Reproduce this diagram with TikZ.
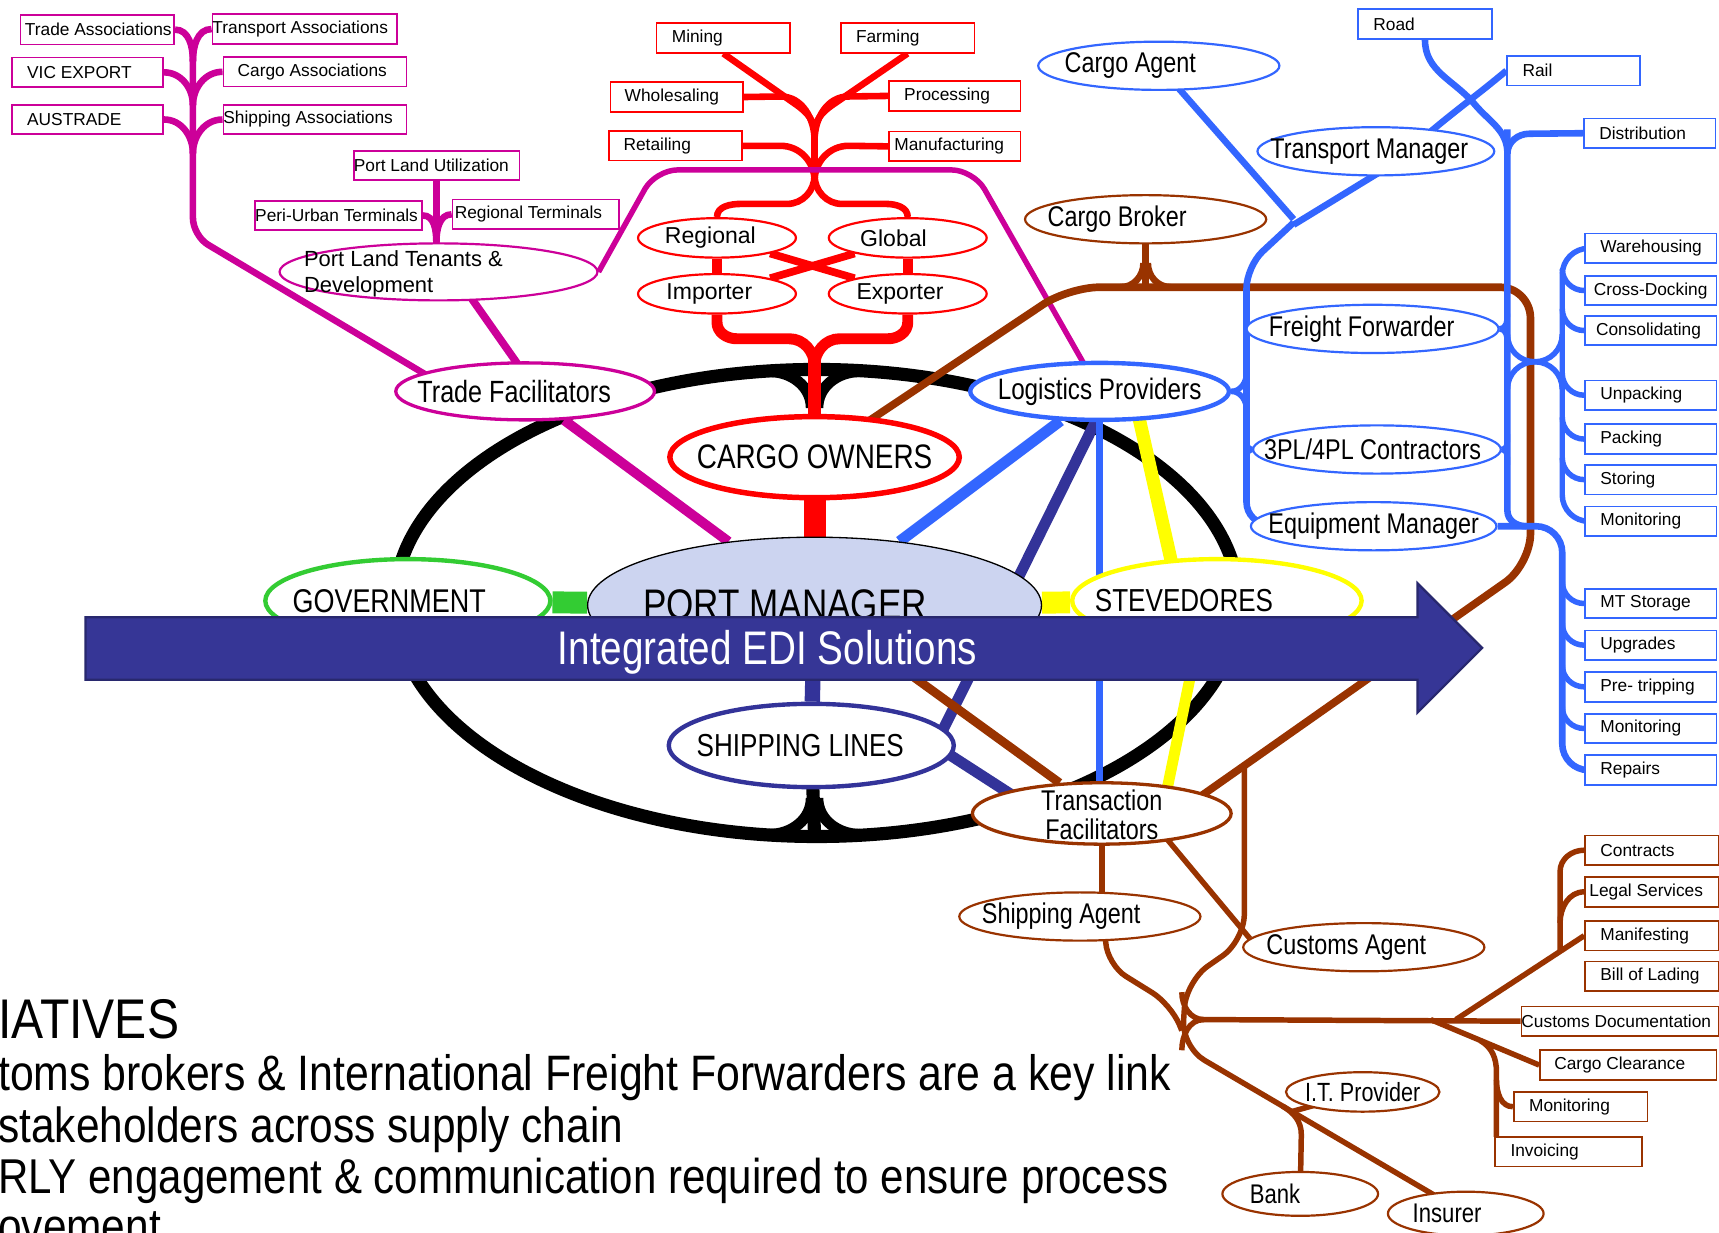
\documentclass[tikz,border=0pt]{standalone}
\usepackage{fontspec}
\setmainfont{Liberation Sans}
\newfontfamily\narrowsf[FakeStretch=0.82]{Liberation Sans}
\newfontfamily\notesf[FakeStretch=0.86]{Liberation Sans}
\usetikzlibrary{shapes.geometric}

\definecolor{magc}{RGB}{204,0,153}
\definecolor{redc}{RGB}{255,0,0}
\definecolor{bluec}{RGB}{51,102,255}
\definecolor{dbluec}{RGB}{51,51,153}
\definecolor{brownc}{RGB}{153,51,0}
\definecolor{greenc}{RGB}{51,204,51}
\definecolor{yellowc}{RGB}{255,255,0}
\definecolor{arrowc}{RGB}{54,54,150}
\definecolor{arrowe}{RGB}{40,40,110}
\definecolor{pmfill}{RGB}{204,212,240}

\pgfdeclarelayer{bg}
\pgfdeclarelayer{fg}
\pgfsetlayers{bg,main,fg}

\newcommand{\boxtxt}[2]{\makebox[#1][l]{#2}}
\newcommand{\elltxt}[2][0pt]{\makebox[0pt]{\hspace*{#1}\hspace*{#1}#2}}

\tikzset{
	bx/.style={draw=#1, line width=0.8pt, fill=white, anchor=west, inner ysep=0pt, minimum height=13.5pt, font=\fontsize{7.9}{9}\selectfont},
	el/.style={ellipse, draw=#1, fill=white, line width=1pt, inner sep=0pt, font=\narrowsf\fontsize{13}{13.5}\selectfont},
	cn/.style={draw=#1, line width=2.5pt},
	note/.style={anchor=base west, inner sep=0pt, font=\notesf\fontsize{22.5}{26}\selectfont},
}

\begin{document}
\begin{tikzpicture}[x=0.5pt, y=-0.5pt]
	
	\useasboundingbox (0,0) rectangle (1568,1124);
	
	% magenta boxes
	\node[bx=magc, inner xsep=2pt] (tradeas) at (18,27) {\boxtxt{66pt}{Trade Associations}};
	\node[bx=magc, inner xsep=0pt] (transas) at (193,26.5) {\boxtxt{84pt}{Transport Associations}};
	\node[bx=magc, inner xsep=7pt] (vicexp) at (10,66) {\boxtxt{55pt}{VIC EXPORT}};
	\node[bx=magc, inner xsep=6.5pt] (cargoas) at (203,65.5) {\boxtxt{70.5pt}{Cargo Associations}};
	\node[bx=magc, inner xsep=7pt] (austrade) at (10,109) {\boxtxt{55pt}{AUSTRADE}};
	\node[bx=magc, inner xsep=0pt] (shipas) at (203,109) {\boxtxt{83.5pt}{Shipping Associations}};
	\node[bx=magc, inner xsep=0pt] (plutil) at (322,151) {\boxtxt{75.5pt}{Port Land Utilization}};
	\node[bx=magc, inner xsep=0pt] (periurb) at (232,196.5) {\boxtxt{76pt}{Peri-Urban Terminals}};
	\node[bx=magc, inner xsep=1pt] (regterm) at (412,195.5) {\boxtxt{74pt}{Regional Terminals}};
	
	% red boxes
	\node[bx=redc, inner xsep=7pt] (mining) at (598,34.5) {\boxtxt{47pt}{Mining}};
	\node[bx=redc, inner xsep=7pt] (farming) at (766,34.5) {\boxtxt{47pt}{Farming}};
	\node[bx=redc, inner xsep=6.5pt] (wholesal) at (556,88.5) {\boxtxt{47.5pt}{Wholesaling}};
	\node[bx=redc, inner xsep=7pt] (process) at (810,87.5) {\boxtxt{46pt}{Processing}};
	\node[bx=redc, inner xsep=6.5pt] (retail) at (555,133) {\boxtxt{47.5pt}{Retailing}};
	\node[bx=redc, inner xsep=2.5pt] (manuf) at (810,133.5) {\boxtxt{55pt}{Manufacturing}};
	
	% blue boxes
	\node[bx=bluec, inner xsep=7pt] (road) at (1238,22) {\boxtxt{47pt}{Road}};
	\node[bx=bluec, inner xsep=7pt] (rail) at (1374,64.5) {\boxtxt{46.5pt}{Rail}};
	\node[bx=bluec, inner xsep=7pt] (distrib) at (1444,121.5) {\boxtxt{46pt}{Distribution}};
	\node[bx=bluec, inner xsep=7pt] (wareh) at (1445,226.5) {\boxtxt{46pt}{Warehousing}};
	\node[bx=bluec, inner xsep=4pt] (crossd) at (1445,265) {\boxtxt{52pt}{Cross-Docking}};
	\node[bx=bluec, inner xsep=5pt] (consol) at (1445,301.5) {\boxtxt{50pt}{Consolidating}};
	\node[bx=bluec, inner xsep=7pt] (unpack) at (1445,360.5) {\boxtxt{46pt}{Unpacking}};
	\node[bx=bluec, inner xsep=7pt] (pack) at (1445,400.5) {\boxtxt{46pt}{Packing}};
	\node[bx=bluec, inner xsep=7pt] (storing) at (1445,437.5) {\boxtxt{46pt}{Storing}};
	\node[bx=bluec, inner xsep=7pt] (monita) at (1445,475.5) {\boxtxt{46pt}{Monitoring}};
	\node[bx=bluec, inner xsep=7pt] (mtstor) at (1445,550.5) {\boxtxt{46pt}{MT Storage}};
	\node[bx=bluec, inner xsep=7pt] (upgr) at (1445,588.5) {\boxtxt{46pt}{Upgrades}};
	\node[bx=bluec, inner xsep=7pt] (pretrip) at (1445,626.5) {\boxtxt{46pt}{Pre- tripping}};
	\node[bx=bluec, inner xsep=7pt] (monitb) at (1445,664.5) {\boxtxt{46pt}{Monitoring}};
	\node[bx=bluec, inner xsep=7pt] (repairs) at (1445,702.5) {\boxtxt{46pt}{Repairs}};
	
	% brown boxes
	\node[bx=brownc, inner xsep=7pt] (contracts) at (1445,775.5) {\boxtxt{47pt}{Contracts}};
	\node[bx=brownc, inner xsep=2pt] (legal) at (1445,813.5) {\boxtxt{57pt}{Legal Services}};
	\node[bx=brownc, inner xsep=7pt] (manif) at (1445,853.5) {\boxtxt{47pt}{Manifesting}};
	\node[bx=brownc, inner xsep=7pt] (bol) at (1445,890.5) {\boxtxt{47pt}{Bill of Lading}};
	\node[bx=brownc, inner xsep=0pt] (custdoc) at (1387,931.5) {\boxtxt{90pt}{Customs Documentation}};
	\node[bx=brownc, inner xsep=6.5pt] (cargoclr) at (1404,971.5) {\boxtxt{67.5pt}{Cargo Clearance}};
	\node[bx=brownc, inner xsep=7pt] (monitc) at (1380,1009.5) {\boxtxt{47pt}{Monitoring}};
	\node[bx=brownc, inner xsep=7pt] (invoic) at (1363,1050.5) {\boxtxt{53pt}{Invoicing}};
	
	% stakeholder ellipses
	\node[el=magc, minimum width=145pt, minimum height=26pt, font=\fontsize{10}{12}\selectfont] (pltenant) at (400,248) {\elltxt[-16pt]{\smash{\raisebox{-3.5pt}{\begin{tabular}{@{}l@{}}Port Land Tenants \&\\Development\end{tabular}}}}};
	\node[el=magc, line width=1.5pt, minimum width=118pt, minimum height=26pt, font=\narrowsf\fontsize{14}{15}\selectfont] (tradefac) at (479,357) {\elltxt[-5pt]{Trade Facilitators}};
	\node[el=redc, minimum width=72pt, minimum height=18pt, font=\fontsize{10.5}{12}\selectfont] (regional) at (654,217) {\elltxt[-3pt]{Regional}};
	\node[el=redc, minimum width=72pt, minimum height=18pt, font=\fontsize{10.5}{12}\selectfont] (global) at (828,217) {\elltxt[-6.5pt]{Global}};
	\node[el=redc, minimum width=72pt, minimum height=18pt, font=\fontsize{10.5}{12}\selectfont] (importer) at (654,268) {\elltxt[-3.5pt]{Importer}};
	\node[el=redc, minimum width=72pt, minimum height=18pt, font=\fontsize{10.5}{12}\selectfont] (exporter) at (828,268) {\elltxt[-3.5pt]{Exporter}};
	\node[el=redc, line width=2.5pt, minimum width=132pt, minimum height=37pt, font=\narrowsf\fontsize{15.5}{17}\selectfont] (cargoown) at (743,417) {\elltxt{CARGO OWNERS}};
	\node[el=black, fill=pmfill, line width=0.6pt, minimum width=207pt, minimum height=62pt, font=\narrowsf\fontsize{19.5}{21}\selectfont] (portmgr) at (743,552) {\elltxt[-13.5pt]{PORT MANAGER}};
	\node[el=greenc, line width=2pt, minimum width=130pt, minimum height=38pt, font=\narrowsf\fontsize{15}{17}\selectfont] (govt) at (372,548) {\elltxt[-8.5pt]{GOVERNMENT}};
	\node[el=yellowc, line width=2pt, minimum width=132pt, minimum height=38pt, font=\narrowsf\fontsize{14.5}{17}\selectfont] (steved) at (1110,548) {\elltxt[-15pt]{STEVEDORES}};
	\node[el=dbluec, line width=2pt, minimum width=130pt, minimum height=38pt, font=\narrowsf\fontsize{14.5}{17}\selectfont] (shiplines) at (740,680) {\elltxt[-5pt]{SHIPPING LINES}};
	\node[el=bluec, line width=2pt, minimum width=118pt, minimum height=26pt, font=\narrowsf\fontsize{13.5}{15}\selectfont] (logprov) at (1003,357) {\elltxt{Logistics Providers}};
	\node[el=brownc, line width=1.5pt, minimum width=118pt, minimum height=28pt] (transfac) at (1005,742) {\elltxt{\smash{\raisebox{-5.5pt}{\begin{tabular}{@{}c@{}}Transaction\\Facilitators\end{tabular}}}}};
	\node[el=bluec, minimum width=110pt, minimum height=22pt] (cargoag) at (1057,60) {\elltxt[-13pt]{Cargo Agent}};
	\node[el=bluec, minimum width=108pt, minimum height=22pt] (transmgr) at (1255,138) {\elltxt[-3pt]{Transport Manager}};
	\node[el=brownc, minimum width=110pt, minimum height=22pt] (cargobrk) at (1045,200) {\elltxt[-13pt]{Cargo Broker}};
	\node[el=bluec, minimum width=115pt, minimum height=22pt] (freightfw) at (1252,300) {\elltxt[-5pt]{Freight Forwarder}};
	\node[el=bluec, minimum width=113pt, minimum height=22pt] (tpl) at (1256,410) {\elltxt[-2pt]{3PL/4PL Contractors}};
	\node[el=bluec, minimum width=112pt, minimum height=22pt] (equipmgr) at (1253,480) {\elltxt{Equipment Manager}};
	\node[el=brownc, minimum width=110pt, minimum height=22pt] (shipag) at (985,836) {\elltxt[-8.5pt]{Shipping Agent}};
	\node[el=brownc, minimum width=110pt, minimum height=22pt] (custag) at (1244,864) {\elltxt[-8pt]{Customs Agent}};
	\node[el=brownc, minimum width=70pt, minimum height=18pt, font=\narrowsf\fontsize{12}{13}\selectfont] (itprov) at (1243,996) {\elltxt{I.T. Provider}};
	\node[el=brownc, minimum width=71pt, minimum height=20pt, font=\narrowsf\fontsize{12.3}{13}\selectfont] (bank) at (1186,1089) {\elltxt[-11.5pt]{Bank}};
	\node[el=brownc, minimum width=71pt, minimum height=20pt, font=\narrowsf\fontsize{12.3}{13}\selectfont] (insurer) at (1337,1107) {\elltxt[-8.5pt]{Insurer}};
	
	% notes
	\node[note, font=\notesf\fontsize{25.5}{28}\selectfont] (initiat) at (-2,947) {IATIVES};
	\node[note, font=\notesf\fontsize{22.7}{26}\selectfont] (notea) at (-2,995) {toms brokers \& International Freight Forwarders are a key link};
	\node[note] (noteb) at (-2,1042) {stakeholders across supply chain};
	\node[note, font=\notesf\fontsize{22.3}{26}\selectfont] (notec) at (-2,1089) {RLY engagement \& communication required to ensure process};
	\node[note] (noted) at (-2,1134) {ovement};
	
	\begin{pgfonlayer}{bg}
	\fill[white] (0,0) rectangle (1568,1124);
	
	% black ring
	\draw[line width=6pt] (745,550) ellipse [x radius=192.5pt, y radius=106.5pt];
	\draw[line width=5pt] (702,339) to[out=0,in=90] (740,372);
	\draw[line width=5pt] (784,339) to[out=180,in=90] (746,372);
	\draw[line width=6pt] (shiplines.center) -- (743,762);
	\draw[line width=5pt] (702,761) to[out=0,in=-90] (740,728);
	\draw[line width=5pt] (784,761) to[out=180,in=-90] (746,728);
	
	% cargo owners tree
	\draw[cn=redc, line width=3pt] (mining.south) -- (727,96) to[out=-36,in=90] (743,122);
	\draw[cn=redc, line width=3pt] (farming.south) -- (759,96) to[out=-145,in=90] (743,122);
	\draw[cn=redc, line width=3pt] (wholesal.east) -- (712,88) to[out=0,in=90] (743,128);
	\draw[cn=redc, line width=3pt] (process.west) -- (774,88) to[out=180,in=90] (743,128);
	\draw[cn=redc, line width=3pt] (retail.east) -- (712,133) to[out=0,in=90] (743,165);
	\draw[cn=redc, line width=3pt] (manuf.west) -- (774,133) to[out=180,in=90] (743,165);
	\draw[cn=redc, line width=3pt] (743,118) -- (743,168);
	\draw[cn=redc, line width=3pt] (743,160) to[out=-90,in=0] (718,186) -- (676,186) to[out=180,in=90] (regional.north);
	\draw[cn=redc, line width=3pt] (743,160) to[out=-90,in=180] (768,186) -- (808,186) to[out=0,in=90] (global.north);
	\draw[cn=redc, line width=4.5pt] (regional) -- (importer);
	\draw[cn=redc, line width=4.5pt] (global) -- (exporter);
	\draw[cn=redc, line width=3.5pt] (regional) -- (exporter);
	\draw[cn=redc, line width=3.5pt] (global) -- (importer);
	\draw[cn=redc, line width=5pt] (importer.south) -- (654,294) to[out=-90,in=180] (672,309) -- (720,309) to[out=0,in=90] (743,334);
	\draw[cn=redc, line width=5pt] (exporter.south) -- (828,294) to[out=-90,in=0] (810,309) -- (766,309) to[out=180,in=90] (743,334);
	\draw[cn=redc, line width=6pt] (743,325) -- (cargoown.center);
	\draw[cn=redc, line width=10pt] (cargoown) -- (portmgr);
	
	% trade facilitators tree
	\draw[cn=magc, line width=3pt, rounded corners=8pt] (176,48) -- (176,215) -- ([shift={(-60,3)}]tradefac.center);
	\draw[cn=magc, line width=3pt] (tradeas.east) to[out=0,in=90] (176,56);
	\draw[cn=magc, line width=3pt] (transas.west) to[out=180,in=90] (176,56);
	\draw[cn=magc, line width=3pt] (vicexp.east) to[out=0,in=90] (176,96);
	\draw[cn=magc, line width=3pt] (cargoas.west) to[out=180,in=90] (176,96);
	\draw[cn=magc, line width=3pt] (austrade.east) to[out=0,in=90] (176,140);
	\draw[cn=magc, line width=3pt] (shipas.west) to[out=180,in=90] (176,140);
	\draw[cn=magc, line width=3pt] (plutil.south) -- (plutil.south |- pltenant.north);
	\draw[cn=magc, line width=3pt] (periurb.east) to[out=0,in=90] (398,222);
	\draw[cn=magc, line width=3pt] (regterm.west) to[out=180,in=90] (398,222);
	\draw[cn=magc, line width=2.5pt, rounded corners=10pt] (pltenant.east) -- (598,155) -- (888,155) -- (logprov.center);
	\draw[cn=magc, line width=3.5pt] ([shift={(18,7)}]pltenant.center) -- ([shift={(3,-11)}]tradefac.center);
	\draw[cn=magc, line width=4.5pt] (tradefac) -- (portmgr);
	
	% hub connectors
	\draw[cn=greenc, line width=10pt] (govt) -- (portmgr);
	\draw[cn=yellowc, line width=10pt] (steved) -- (portmgr);
	\draw[cn=bluec, line width=5pt] (logprov) -- (portmgr);
	\draw[cn=dbluec, line width=5pt] ([shift={(0,20)}]logprov.center) -- ([shift={(118,-10)}]shiplines.center);
	\draw[cn=bluec, line width=3pt] (logprov.center) -- (logprov.center |- transfac.center);
	\draw[cn=yellowc, line width=6pt] ([shift={(35,20)}]logprov.center) -- ([shift={(-38,-20)}]steved.center);
	\draw[cn=yellowc, line width=5pt] ([shift={(-10,0)}]steved.center) -- ([shift={(55,0)}]transfac.center);
	\draw[cn=dbluec, line width=7pt] (portmgr) -- (shiplines);
	\draw[cn=dbluec, line width=5pt] ([shift={(110,-2)}]shiplines.center) -- ([shift={(-45,7)}]transfac.center);
	\draw[cn=brownc, line width=4pt] (portmgr) -- (transfac);
	
	% brown loop and broker
	\draw[cn=brownc, line width=3.5pt, rounded corners=14pt] (cargoown.center) -- (975,262) -- (1396,262) -- (1396,515) -- ([shift={(75,-5)}]transfac.center);
	\coordinate (bj) at (1135,698);
	\draw[cn=brownc, line width=3.5pt] (cargobrk.center) -- (1045,262);
	\draw[cn=brownc, line width=3pt] (1022,262) to[out=0,in=-90] (1043,240);
	\draw[cn=brownc, line width=3pt] (1068,262) to[out=180,in=-90] (1047,240);
	
	% transaction facilitators tree
	\draw[cn=brownc] (transfac.center) -- (transfac.center |- shipag.center);
	\draw[cn=brownc] ([shift={(40,0)}]transfac.center) -- ([shift={(-104,-8)}]custag.center);
	\draw[cn=brownc, rounded corners=12pt] (bj) -- (1135,858) -- (1082,895) -- (1078,955) -- (insurer.center);
	\draw[cn=brownc, rounded corners=10pt] ([shift={(22,0)}]shipag.center) -- (1010,880) -- (1068,916) -- (1078,940);
	\draw[cn=brownc] (1078,905) to[out=-90,in=180] (1098,930) -- (custdoc.west);
	\draw[cn=brownc] (1078,958) to[out=90,in=180] (1098,930);
	\draw[cn=brownc] (1328,930) -- (manif.west);
	\draw[cn=brownc] (1423,868) -- (1423,795) to[out=90,in=180] (contracts.west);
	\draw[cn=brownc] (1423,842) to[out=90,in=180] (legal.west);
	\draw[cn=brownc] (1305,930) -- (cargoclr.west);
	\draw[cn=brownc] (1350,949) to[out=-30,in=90] (1365,978) -- (1365,1037);
	\draw[cn=brownc] (1365,985) to[out=-90,in=180] (monitc.west);
	\coordinate (bk) at (1178,1014);
	\draw[cn=brownc] (bk) -- (itprov.center);
	\draw[cn=brownc] (1170,1009) to[out=-31,in=90] (1187,1035) -- (bank.center);
	
	% logistics providers tree
	\draw[cn=bluec, line width=3pt] (cargoag.center) -- (1180,200);
	\draw[cn=bluec, line width=3pt] ([shift={(10,15)}]transmgr.center) -- (1180,205);
	\draw[cn=bluec, line width=3pt, rounded corners=10pt] (1180,203) -- (1137,243) -- (1137,478) -- (equipmgr.center);
	\draw[cn=bluec, line width=2.5pt] (1137,340) to[out=-90,in=0] (logprov.east);
	\draw[cn=bluec, line width=2.5pt] (1137,374) to[out=90,in=0] (logprov.east);
	\draw[cn=bluec, line width=2.5pt] (1137,396) to[out=-90,in=180] (tpl.west);
	\draw[cn=bluec, line width=2.5pt] (1137,424) to[out=90,in=180] (tpl.west);
	\draw[cn=bluec, line width=3pt] (1375,118) -- (1375,466) to[out=-90,in=180] (1392,480);
	\draw[cn=bluec, line width=3pt, rounded corners=12pt] (equipmgr.east) -- (1425,480) -- (1425,702.5) -- (repairs.west);
	\draw[cn=bluec, line width=2.5pt] (1375,286) to[out=-90,in=0] (freightfw.east);
	\draw[cn=bluec, line width=2.5pt] (1375,314) to[out=90,in=0] (freightfw.east);
	\draw[cn=bluec, line width=2.5pt] (1375,396) to[out=-90,in=0] (tpl.east);
	\draw[cn=bluec, line width=2.5pt] (1375,424) to[out=90,in=0] (tpl.east);
	\draw[cn=bluec, line width=2.5pt] (1375,305) to[out=-90,in=180] (1400,330) to[out=0,in=90] (1425,355);
	\draw[cn=bluec, line width=2.5pt] (1375,355) to[out=90,in=180] (1400,330) to[out=0,in=-90] (1425,305);
	\draw[cn=bluec, line width=2.5pt, rounded corners=12pt] (wareh.west) -- (1425,226.5) -- (1425,475.5) -- (monita.west);
	\foreach \b in {crossd,consol,unpack,pack,storing,mtstor,upgr,pretrip,monitb}
		\draw[cn=bluec, line width=2.5pt] ([shift={(-20,-20)}]\b.west) to[out=-90,in=180] (\b.west);
	\draw[cn=bluec, line width=3pt] (1375,140) to[out=90,in=180] (1395,122) -- (distrib.west);
	\draw[cn=bluec, line width=3pt] (road.south) to[out=-90,in=130] (1345,95) to[out=-50,in=90] (1375,140);
	\draw[cn=bluec, line width=3pt] (rail.west) to[out=-140,in=40] ([shift={(50,-18)}]transmgr.center);
	\end{pgfonlayer}
	
	\begin{pgfonlayer}{fg}
	\fill[arrowc, draw=arrowe, line width=1pt] (78,563) -- (1293,563) -- (1293,532) -- (1352,591) -- (1293,650) -- (1293,620) -- (78,620) -- cycle;
	\node[text=white, font=\narrowsf\fontsize{21.5}{24}\selectfont] (edi) at (700,595) {Integrated EDI Solutions};
	\end{pgfonlayer}
	
\end{tikzpicture}
\end{document}
